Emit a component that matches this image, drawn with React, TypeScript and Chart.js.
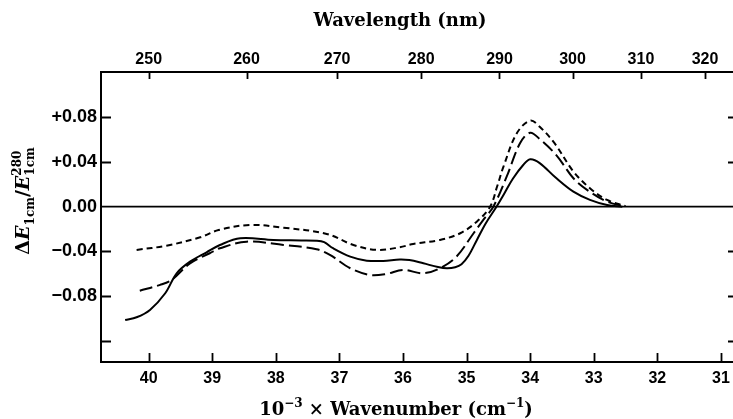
import React, { useEffect, useRef } from 'react';
import { Chart, registerables } from 'chart.js';

Chart.register(...registerables);

// Bottom axis: 10^-3 x wavenumber (cm^-1)
const wavenumberTicks = [31, 32, 33, 34, 35, 36, 37, 38, 39, 40];
// Top axis: wavelength (nm)
const wavelengthTicks = [250, 260, 270, 280, 290, 300, 310, 320];
// Y axis
const yTicks = [-0.12, -0.08, -0.04, 0, 0.04, 0.08, 0.12];
const yTickLabels = ['', '\u22120.08', '\u22120.04', '0.00', '+0.04', '+0.08', ''];

// Solid curve
const solidX = [40.37, 40.19, 39.98, 39.74, 39.56, 39.35, 39.09, 38.88, 38.56, 38.04, 37.60, 37.36, 37.24, 37.10, 36.83, 36.57, 36.31, 36.05, 35.90, 35.68, 35.45, 35.31, 35.18, 35.08, 34.97, 34.84, 34.70, 34.53, 34.40, 34.27, 34.11, 34.00, 33.85, 33.60, 33.32, 33.06, 32.79, 32.55];
const solidY = [-0.1014, -0.099, -0.0924, -0.0775, -0.0596, -0.0492, -0.0408, -0.0343, -0.0283, -0.0298, -0.0302, -0.0305, -0.0318, -0.0372, -0.0447, -0.0483, -0.0486, -0.0472, -0.0478, -0.0507, -0.0540, -0.0551, -0.0542, -0.0515, -0.0440, -0.0300, -0.0150, 0, 0.0125, 0.0252, 0.0373, 0.0424, 0.0390, 0.0260, 0.0134, 0.0061, 0.0015, 0];

// Long-dash curve
const longX = [40.14, 39.82, 39.64, 39.35, 39.04, 38.88, 38.46, 37.88, 37.36, 37.15, 36.83, 36.52, 36.26, 36.0, 35.68, 35.42, 35.16, 34.89, 34.74, 34.58, 34.37, 34.16, 34.0, 33.85, 33.58, 33.32, 33.08, 32.79, 32.5];
const longY = [-0.0752, -0.070, -0.0656, -0.0507, -0.0417, -0.0372, -0.0313, -0.0343, -0.0381, -0.0432, -0.0551, -0.0611, -0.0602, -0.0566, -0.0596, -0.0551, -0.0447, -0.0238, -0.0120, 0, 0.0268, 0.0567, 0.0662, 0.0605, 0.0455, 0.0254, 0.0140, 0.0045, 0];

// Short-dash curve
const shortX = [40.19, 39.72, 39.19, 38.90, 38.41, 37.88, 37.20, 36.78, 36.41, 36.05, 35.84, 35.42, 35.10, 34.84, 34.63, 34.52, 34.42, 34.21, 34.0, 33.85, 33.62, 33.32, 33.06, 32.79, 32.5];
const shortY = [-0.0387, -0.0349, -0.0274, -0.0209, -0.0164, -0.0188, -0.0244, -0.0343, -0.0387, -0.0363, -0.0334, -0.0298, -0.0238, -0.0134, 0, 0.0180, 0.0358, 0.0657, 0.0770, 0.0715, 0.0570, 0.0315, 0.0165, 0.0060, 0.0005];

const X_MIN = 30.81;
const X_MAX = 40.75;
const Y_MIN = -0.139;
const Y_MAX = 0.1205;

const SERIF = '"DejaVu Serif", serif';
const SANS = '"Liberation Sans", Arial, sans-serif';

function toPoints(xs: number[], ys: number[]) {
  return xs.map((x, i) => ({ x, y: ys[i] }));
}

type Piece = { t: string; size: number; italic?: boolean; dy?: number; stack?: { t: string; size: number; dy: number }[] };

function pieceFont(size: number, italic?: boolean) {
  return `${italic ? 'italic ' : ''}bold ${size}px ${SERIF}`;
}

function measurePieces(ctx: CanvasRenderingContext2D, pieces: Piece[]) {
  let w = 0;
  for (const p of pieces) {
    if (p.stack) {
      let m = 0;
      for (const s of p.stack) {
        ctx.font = pieceFont(s.size);
        m = Math.max(m, ctx.measureText(s.t).width);
      }
      w += m;
    } else {
      ctx.font = pieceFont(p.size, p.italic);
      w += ctx.measureText(p.t).width;
    }
  }
  return w;
}

function drawPieces(ctx: CanvasRenderingContext2D, pieces: Piece[], x0: number, y0: number) {
  let x = x0;
  ctx.textBaseline = 'alphabetic';
  ctx.textAlign = 'left';
  for (const p of pieces) {
    if (p.stack) {
      let m = 0;
      for (const s of p.stack) {
        ctx.font = pieceFont(s.size);
        ctx.fillText(s.t, x, y0 + s.dy);
        m = Math.max(m, ctx.measureText(s.t).width);
      }
      x += m;
    } else {
      ctx.font = pieceFont(p.size, p.italic);
      ctx.fillText(p.t, x, y0 + (p.dy || 0));
      x += ctx.measureText(p.t).width;
    }
  }
}

const framePlugin = {
  id: 'frame',
  beforeDatasetsDraw(chart: any) {
    const { ctx, chartArea } = chart;
    const y = chart.scales.y;
    ctx.save();
    ctx.strokeStyle = '#000';
    ctx.lineWidth = 1.6;
    const y0 = y.getPixelForValue(0);
    ctx.beginPath();
    ctx.moveTo(chartArea.left, y0);
    ctx.lineTo(chartArea.right, y0);
    ctx.stroke();
    ctx.restore();
  },
  afterDraw(chart: any) {
    const { ctx, chartArea } = chart;
    const { left, right, top, bottom } = chartArea;
    const xs = chart.scales.x;
    const ys = chart.scales.y;
    ctx.save();
    ctx.strokeStyle = '#000';
    ctx.fillStyle = '#000';
    ctx.lineWidth = 2;
    ctx.beginPath();
    ctx.moveTo(right, top);
    ctx.lineTo(left, top);
    ctx.lineTo(left, bottom);
    ctx.lineTo(right, bottom);
    ctx.stroke();

    ctx.lineWidth = 1.8;
    ctx.beginPath();
    for (const v of wavenumberTicks) {
      const px = Math.round(xs.getPixelForValue(v)) + 0.5;
      ctx.moveTo(px, bottom);
      ctx.lineTo(px, bottom - 9);
    }
    for (const nm of wavelengthTicks) {
      const px = Math.round(xs.getPixelForValue(1e4 / nm)) + 0.5;
      ctx.moveTo(px, top);
      ctx.lineTo(px, top + 7);
    }
    for (const v of yTicks) {
      if (v === 0 || v >= 0.12) continue;
      const py = Math.round(ys.getPixelForValue(v)) + 0.5;
      ctx.moveTo(left, py);
      ctx.lineTo(left + 10, py);
      ctx.moveTo(right - 5, py);
      ctx.lineTo(right, py);
    }
    ctx.stroke();

    ctx.font = `bold 18px ${SERIF}`;
    ctx.textAlign = 'center';
    ctx.textBaseline = 'alphabetic';
    ctx.fillText('Wavelength (nm)', 400, 26);

    const bottomPieces: Piece[] = [
      { t: '10', size: 18 },
      { t: '\u22123', size: 12, dy: -8 },
      { t: ' \u00d7 Wavenumber (cm', size: 18 },
      { t: '\u22121', size: 12, dy: -8 },
      { t: ')', size: 18 },
    ];
    const bw = measurePieces(ctx, bottomPieces);
    drawPieces(ctx, bottomPieces, 396 - bw / 2, 415);

    const yPieces: Piece[] = [
      { t: '\u0394', size: 19 },
      { t: 'E', size: 19, italic: true },
      { t: '1cm', size: 12, dy: 5 },
      { t: '/', size: 19 },
      { t: 'E', size: 19, italic: true },
      { t: '', size: 12, stack: [ { t: '280', size: 12, dy: -8 }, { t: '1cm', size: 12, dy: 5 } ] },
    ];
    const yw = measurePieces(ctx, yPieces);
    ctx.translate(29, 201);
    ctx.rotate(-Math.PI / 2);
    drawPieces(ctx, yPieces, -yw / 2, 0);
    ctx.restore();
  },
};

export default function App() {
  const ref = useRef<HTMLCanvasElement>(null);

  useEffect(() => {
    const canvas = ref.current;
    if (!canvas) return;
    const lineBase = {
      borderColor: '#000',
      borderWidth: 2,
      pointRadius: 0,
      fill: false,
      tension: 0.35,
    };
    const chart = new Chart(canvas, {
      type: 'line',
      data: {
        datasets: [
          { ...lineBase, label: 'solid', data: toPoints(solidX, solidY) },
          { ...lineBase, label: 'long dash', data: toPoints(longX, longY), borderDash: [13, 5] },
          { ...lineBase, label: 'short dash', data: toPoints(shortX, shortY), borderDash: [6, 4] },
        ],
      },
      options: {
        animation: false,
        responsive: false,
        maintainAspectRatio: false,
        devicePixelRatio: 1,
        layout: { padding: 0 },
        plugins: {
          legend: { display: false },
          tooltip: { enabled: false },
          title: { display: false },
        },
        scales: {
          x: {
            type: 'linear',
            position: 'bottom',
            reverse: true,
            min: X_MIN,
            max: X_MAX,
            afterBuildTicks: (s: any) => {
              s.ticks = wavenumberTicks.map((v) => ({ value: v }));
            },
            afterFit: (s: any) => {
              s.height = 57;
            },
            grid: { display: false, drawTicks: false },
            border: { display: false },
            ticks: {
              padding: 7,
              color: '#000',
              autoSkip: false,
              maxRotation: 0,
              font: { family: SANS, size: 16, weight: 'bold' },
              callback: (v: any) => String(v),
            },
          },
          x2: {
            type: 'linear',
            position: 'top',
            reverse: true,
            min: X_MIN,
            max: X_MAX,
            afterBuildTicks: (s: any) => {
              s.ticks = wavelengthTicks.map((nm) => ({ value: 1e4 / nm }));
            },
            afterFit: (s: any) => {
              s.height = 72;
            },
            grid: { display: false, drawTicks: false },
            border: { display: false },
            ticks: {
              padding: 3,
              color: '#000',
              autoSkip: false,
              maxRotation: 0,
              font: { family: SANS, size: 16, weight: 'bold' },
              callback: (_v: any, i: number) => String(wavelengthTicks[i]),
            },
          },
          y: {
            type: 'linear',
            position: 'left',
            min: Y_MIN,
            max: Y_MAX,
            afterBuildTicks: (s: any) => {
              s.ticks = yTicks.map((v) => ({ value: v }));
            },
            afterFit: (s: any) => {
              s.width = 101;
            },
            grid: { display: false, drawTicks: false },
            border: { display: false },
            ticks: {
              padding: 4,
              color: '#000',
              autoSkip: false,
              font: { family: SANS, size: 18, weight: 'bold' },
              callback: (v: any) => {
                const i = yTicks.findIndex((t) => Math.abs(t - Number(v)) < 1e-9);
                return i >= 0 ? yTickLabels[i] : '';
              },
            },
          },
        },
      },
      plugins: [framePlugin],
    });
    return () => chart.destroy();
  }, []);

  return (
    <div style={{ position: 'absolute', left: 0, top: 0, width: 733, height: 419, background: '#fff' }}>
      <canvas ref={ref} width={733} height={419} style={{ display: 'block', width: 733, height: 419 }} />
    </div>
  );
}
